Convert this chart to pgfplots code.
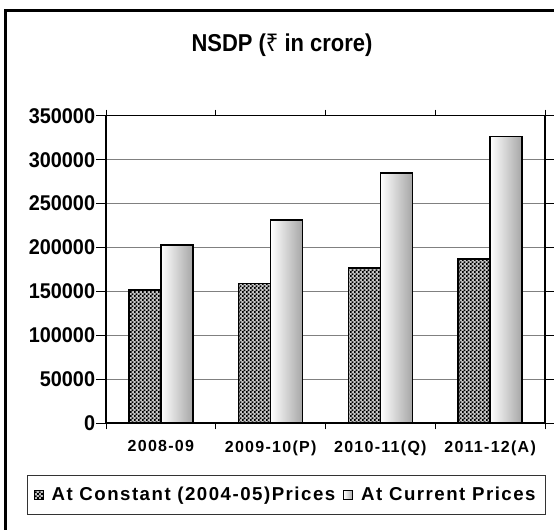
\documentclass[border=0pt]{standalone}
\usepackage{fontspec}
\setmainfont{Liberation Sans}
\newfontfamily\condfont{Liberation Sans}[FakeStretch=0.9]
\newfontfamily\ycondfont{Liberation Sans}[FakeStretch=0.93]
\newfontfamily\rupeefont{Noto Sans}[FakeStretch=0.9]
\usepackage{pgfplots}
\pgfplotsset{compat=1.18}
\usetikzlibrary{patterns}

\pgfdeclarepatternformonly{finecheck}{\pgfpointorigin}{\pgfqpoint{2.8pt}{2.8pt}}{\pgfqpoint{2.8pt}{2.8pt}}{%
 \pgfpathrectangle{\pgfpointorigin}{\pgfqpoint{1.4pt}{1.4pt}}%
 \pgfpathrectangle{\pgfqpoint{1.4pt}{1.4pt}}{\pgfqpoint{1.4pt}{1.4pt}}%
 \pgfusepath{fill}}
\pgfdeclarepatternformonly{sparsedots}{\pgfqpoint{-0.5pt}{-0.5pt}}{\pgfqpoint{4.5pt}{4.5pt}}{\pgfqpoint{4pt}{4pt}}{%
 \pgfpathcircle{\pgfqpoint{0.6pt}{0.6pt}}{0.6pt}%
 \pgfpathcircle{\pgfqpoint{2.6pt}{2.6pt}}{0.6pt}%
 \pgfusepath{fill}}

\pgfplotsset{
 sqlegend/.style={legend image code/.code={\draw[##1,line width=0.6pt] (0pt,-3.4pt) rectangle (6.8pt,3.4pt);}},
 constbar/.style={ybar, bar width=24pt, bar shift=-12pt, draw=black, line width=1.1pt, fill=gray!45,
   postaction={pattern=finecheck, pattern color=black}, sqlegend},
 curbar/.style={ybar, bar width=24pt, bar shift=12pt, draw=black, line width=1.1pt,
   left color=white, middle color=white, right color=gray!70,
   postaction={pattern=sparsedots, pattern color=black!85}, sqlegend},
}

\pgfplotstableread{
x constant current
0 151500 203100
1 159400 231500
2 177000 284800
3 187200 326100
}\nsdp

\begin{document}
\begin{tikzpicture}
\useasboundingbox (-79.5pt,-79.3pt) rectangle (336pt,317.5pt);
\begin{axis}[
 at={(0pt,0pt)}, anchor=south west,
 scale only axis, width=329.25pt, height=230.7pt,
 xmin=-0.5, xmax=3.5, ymin=0, ymax=350000,
 xtick={0,1,2,3},
 xticklabels={2008-09,2009-10(P),2010-11(Q),2011-12(A)},
 minor xtick={-0.5,0.5,1.5,2.5,3.5},
 major x tick style={draw=none},
 ytick={0,50000,100000,150000,200000,250000,300000,350000},
 yticklabels={0,50000,100000,150000,200000,250000,300000,350000},
 scaled y ticks=false,
 yticklabel style={font=\fontsize{16}{16}\selectfont\ycondfont\bfseries, inner sep=0.5pt},
 xticklabel style={font=\fontsize{12}{12}\selectfont\bfseries\addfontfeatures{LetterSpace=8}, yshift=-2pt},
 tick align=outside,
 major tick length=7.5pt, minor tick length=4.5pt,
 tick style={black, line width=0.6pt},
 ymajorgrids=true,
 major grid style={draw=gray, line width=0.75pt},
 axis line style={black, line width=0.9pt},
 legend columns=2,
 legend style={at={(0.41,-0.232)}, anchor=center, draw=black!80, line width=0.6pt,
   font=\fontsize{14}{14}\selectfont\bfseries\addfontfeatures{LetterSpace=8},
   inner xsep=5pt, inner ysep=7pt,
   /tikz/every odd column/.append style={column sep=4pt},
   /tikz/every even column/.append style={column sep=4pt}},
]
\addplot[constbar] table[x=x, y=constant] {\nsdp};
\addlegendentry{At Constant (2004-05)Prices}
\addplot[curbar] table[x=x, y=current, skip coords between index={1}{4}] {\nsdp};
\addlegendentry{At Current Prices}
\addplot[curbar, forget plot] table[x=x, y=current, skip coords between index={0}{1}, skip coords between index={2}{4}] {\nsdp};
\addplot[curbar, forget plot] table[x=x, y=current, skip coords between index={0}{2}, skip coords between index={3}{4}] {\nsdp};
\addplot[curbar, forget plot] table[x=x, y=current, skip coords between index={0}{3}] {\nsdp};
\draw[black, line width=1.6pt] (axis cs:-0.5,0) -- (axis cs:3.5,0);
\end{axis}
\draw[line width=2.25pt] (-75.5pt,-120pt) -- (-75.5pt,309.6pt) -- (420pt,309.6pt);
\node[font=\fontsize{18.3}{20}\selectfont\condfont\bfseries] at (132pt,283.7pt) {NSDP ({\rupeefont\bfseries ₹} in crore)};
\end{tikzpicture}
\end{document}
